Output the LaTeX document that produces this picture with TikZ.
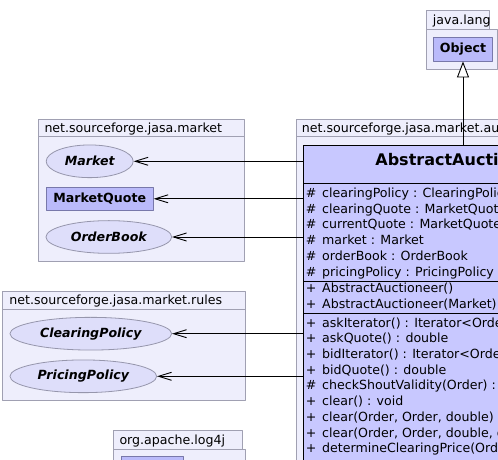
\documentclass[tikz,border=0pt]{standalone}
\usepackage{fontspec}
\setmainfont{DejaVu Sans}
\usepackage{tikz}
\usetikzlibrary{shapes,arrows.meta}
\definecolor{pkgbg}{RGB}{238,238,252}
\definecolor{pkgline}{RGB}{160,160,178}
\definecolor{classbg}{RGB}{200,200,255}
\definecolor{smallbg}{RGB}{186,186,250}
\definecolor{smallline}{RGB}{120,120,170}
\definecolor{ifacebg}{RGB}{222,222,250}
\definecolor{ifaceline}{RGB}{150,150,172}
\newcommand{\vis}[1]{\makebox[16.3bp][l]{#1}}
\begin{document}
\begin{tikzpicture}[>=latex,line join=bevel,
  every node/.style={font=\fontsize{12.6bp}{15bp}\selectfont},
  pkg/.style={draw=pkgline,fill=pkgbg,line width=0.8bp},
  pkglabel/.style={anchor=base west,inner sep=0pt},
  iface/.style={draw=ifaceline,fill=ifacebg,ellipse,inner sep=1bp,line width=0.8bp,
    font=\fontsize{12.6bp}{15bp}\selectfont\bfseries\itshape},
  small/.style={draw=smallline,fill=smallbg,rectangle,inner sep=1bp,line width=0.8bp,
    font=\fontsize{12.6bp}{15bp}\selectfont\bfseries},
  cls/.style={draw=black,fill=classbg,rectangle,inner sep=0pt,line width=0.8bp},
  member/.style={anchor=base west,inner sep=0pt},
  sep/.style={draw=black,line width=0.8bp},
  assoc/.style={-{Straight Barb[length=13bp,width=8bp]},line width=0.9bp},
  gen/.style={-{Triangle[length=16bp,width=12bp,fill=white]},line width=0.9bp},
]
\useasboundingbox (0bp,0bp) rectangle (498bp,460bp);
\clip (0bp,0bp) rectangle (498bp,460bp);
%% packages
\draw [pkg] (426bp,431bp) rectangle (497bp,391bp);
\draw [pkg] (426bp,449.5bp) rectangle (489.3bp,431bp);
\draw [pkg] (296bp,324bp) rectangle (700bp,-100bp);
\draw [pkg] (296bp,341bp) rectangle (700bp,324bp);
\draw [pkg] (38.3bp,324bp) rectangle (244.3bp,199bp);
\draw [pkg] (38.3bp,340.7bp) rectangle (244.3bp,324bp);
\draw [pkg] (2.7bp,150.7bp) rectangle (245.7bp,60bp);
\draw [pkg] (2.7bp,168.3bp) rectangle (245.7bp,150.7bp);
\draw [pkg] (113.3bp,11bp) rectangle (245.7bp,-60bp);
\draw [pkg] (113.3bp,30bp) rectangle (242.3bp,11bp);
\node (pjava) at (432.7bp,435bp) [pkglabel] {java.lang};
\node (pauct) at (301.7bp,327.5bp) [pkglabel] {net.sourceforge.jasa.market.auctioneer};
\node (pmkt) at (44.3bp,327.8bp) [pkglabel] {net.sourceforge.jasa.market};
\node (prules) at (9.3bp,155bp) [pkglabel] {net.sourceforge.jasa.market.rules};
\node (plog) at (119.3bp,15.7bp) [pkglabel] {org.apache.log4j};
%% classes
\node (obj) at (463bp,410.8bp) [small,minimum width=58.7bp,minimum height=23.7bp] {Object};
\node (mk) at (89.7bp,298.7bp) [iface,minimum width=87bp,minimum height=32.7bp] {Market};
\node (mq) at (99.7bp,261.2bp) [small,minimum width=107bp,minimum height=23bp] {MarketQuote};
\node (ob) at (108.8bp,223bp) [iface,minimum width=125.7bp,minimum height=32.7bp] {OrderBook};
\node (cp) at (90.8bp,126.3bp) [iface,minimum width=161.7bp,minimum height=32.7bp] {ClearingPolicy};
\node (pp) at (83.3bp,83.7bp) [iface,minimum width=146.7bp,minimum height=32.7bp] {PricingPolicy};
\node (lg) at (152.5bp,-8bp) [small,minimum width=61.6bp,minimum height=24bp] {};
\node (aa) at (463bp,65bp) [cls,minimum width=319bp,minimum height=500bp] {};
\node (aan) at (463bp,294.5bp) [anchor=base,inner sep=0pt,font=\fontsize{16bp}{18bp}\selectfont\bfseries] {AbstractAuctioneer};
\coordinate (s1) at (0bp,276.7bp);
\coordinate (s2) at (0bp,178.3bp);
\coordinate (s3) at (0bp,146.7bp);
\draw [sep] (aa.west |- s1) -- (aa.east |- s1);
\draw [sep] (aa.west |- s2) -- (aa.east |- s2);
\draw [sep] (aa.west |- s3) -- (aa.east |- s3);
%% members
\node (a1) at (305.7bp,262.8bp) [member] {\vis{\#}clearingPolicy : ClearingPolicy};
\node (a2) at (305.7bp,246.9bp) [member] {\vis{\#}clearingQuote : MarketQuote};
\node (a3) at (305.7bp,231.0bp) [member] {\vis{\#}currentQuote : MarketQuote};
\node (a4) at (305.7bp,215.1bp) [member] {\vis{\#}market : Market};
\node (a5) at (305.7bp,199.2bp) [member] {\vis{\#}orderBook : OrderBook};
\node (a6) at (305.7bp,183.3bp) [member] {\vis{\#}pricingPolicy : PricingPolicy};
\node (c1) at (305.7bp,167.0bp) [member] {\vis{+}AbstractAuctioneer()};
\node (c2) at (305.7bp,151.2bp) [member] {\vis{+}AbstractAuctioneer(Market)};
\node (m1) at (305.7bp,132.8bp) [member] {\vis{+}askIterator() : Iterator<Order>};
\node (m2) at (305.7bp,117.1bp) [member] {\vis{+}askQuote() : double};
\node (m3) at (305.7bp,101.4bp) [member] {\vis{+}bidIterator() : Iterator<Order>};
\node (m4) at (305.7bp,85.7bp) [member] {\vis{+}bidQuote() : double};
\node (m5) at (305.7bp,70.0bp) [member] {\vis{\#}checkShoutValidity(Order) : void};
\node (m6) at (305.7bp,54.3bp) [member] {\vis{+}clear() : void};
\node (m7) at (305.7bp,38.6bp) [member] {\vis{+}clear(Order, Order, double) : void};
\node (m8) at (305.7bp,22.9bp) [member] {\vis{+}clear(Order, Order, double, double) : void};
\node (m9) at (305.7bp,7.2bp) [member] {\vis{+}determineClearingPrice(Order, Order) : double};
%% connectors
\draw [gen,] (aa.north) -- (obj.south);
\draw [assoc,] (aa.west |- mk) -- (mk);
\draw [assoc,] (aa.west |- mq) -- (mq);
\draw [assoc,] (aa.west |- ob) -- (ob);
\draw [assoc,] (aa.west |- cp) -- (cp);
\draw [assoc,] (aa.west |- pp) -- (pp);
%
\end{tikzpicture}
\end{document}
